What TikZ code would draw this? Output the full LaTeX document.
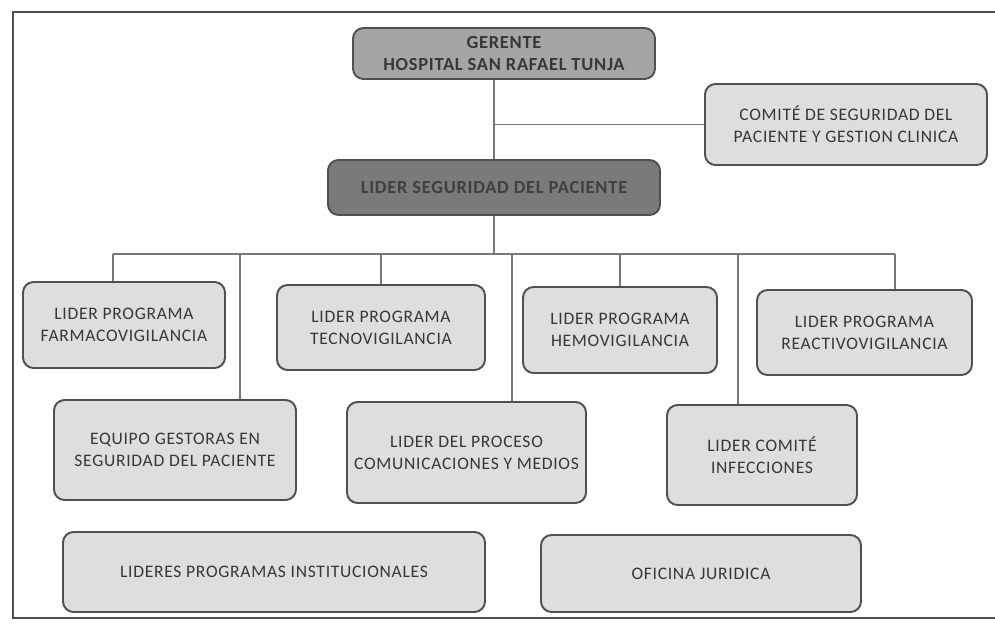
\documentclass[tikz,border=0pt]{standalone}
\usepackage{fontspec}
\setmainfont{Carlito}
\newfontfamily\orgfont[LetterSpace=4]{Carlito}
\usepackage{xcolor}
\definecolor{orgdark}{RGB}{122,122,122}
\definecolor{orgmid}{RGB}{165,165,165}
\definecolor{orglight}{RGB}{222,222,222}
\definecolor{orgedge}{RGB}{80,80,80}
\definecolor{orgline}{RGB}{120,120,120}
\definecolor{orgtext}{RGB}{55,55,55}
\usepackage{tikz}
\usetikzlibrary{positioning}

\begin{document}
\begin{tikzpicture}[
  box/.style={draw=orgedge, fill=orglight, line width=1.1pt, rounded corners=6pt,
    align=center, inner sep=2pt, text=orgtext, font=\orgfont\fontsize{10}{12.5}\selectfont},
  topbox/.style={box, font=\orgfont\fontsize{10.5}{12.5}\selectfont\bfseries},
  link/.style={draw=orgline, line width=0.6pt}
]
  \useasboundingbox (0,0) rectangle (19.9,12.46);
  % outer frame
  \draw[orgedge, line width=1pt] (0.26,0.1) rectangle (20.3,12.22);

  % Top: management
  \node[topbox, fill=orgmid, minimum width=6.04cm, minimum height=1.02cm] (gerente) at (10.08,11.39) {GERENTE\\HOSPITAL SAN RAFAEL TUNJA};
  \node[box, minimum width=5.64cm, minimum height=1.62cm] (comite) at (16.92,9.97) {COMITÉ DE SEGURIDAD DEL\\PACIENTE Y GESTION CLINICA};
  \node[topbox, fill=orgdark, text=black!75, minimum width=6.64cm, minimum height=1.1cm] (seguridad) at (9.88,8.71) {LIDER SEGURIDAD DEL PACIENTE};

  % Row 1: programs
  \node[box, minimum width=4.04cm, minimum height=1.72cm] (farmaco) at (2.48,5.96) {LIDER PROGRAMA\\FARMACOVIGILANCIA};
  \node[box, minimum width=4.16cm, minimum height=1.70cm] (tecno) at (7.62,5.91) {LIDER PROGRAMA\\TECNOVIGILANCIA};
  \node[box, minimum width=3.88cm, minimum height=1.72cm] (hemo) at (12.40,5.86) {LIDER PROGRAMA\\HEMOVIGILANCIA};
  \node[box, minimum width=4.30cm, minimum height=1.70cm] (reactivo) at (17.29,5.81) {LIDER PROGRAMA\\REACTIVOVIGILANCIA};

  % Row 2
  \node[box, minimum width=4.84cm, minimum height=2.00cm] (equipo) at (3.50,3.46) {EQUIPO GESTORAS EN\\SEGURIDAD DEL PACIENTE};
  \node[box, minimum width=4.78cm, minimum height=2.02cm] (proceso) at (9.33,3.41) {LIDER DEL PROCESO\\COMUNICACIONES Y MEDIOS};
  \node[box, minimum width=3.80cm, minimum height=2.00cm] (infecciones) at (15.24,3.36) {LIDER COMITÉ\\INFECCIONES};

  % Row 3
  \node[box, minimum width=8.44cm, minimum height=1.60cm] (institucionales) at (5.48,1.02) {LIDERES PROGRAMAS INSTITUCIONALES};
  \node[box, minimum width=6.40cm, minimum height=1.54cm] (juridica) at (14.02,0.99) {OFICINA JURIDICA};

  % connectors
  \coordinate (busl) at (2.26,7.38);
  \coordinate (busr) at (17.90,7.38);
  \draw[link] (seguridad.north) -- (seguridad.north |- gerente.south);
  \draw[link] (comite.west) -- (comite.west -| seguridad.north);
  \draw[link] (seguridad.south) -- (seguridad.south |- busl);
  \draw[link] (busl) -- (busr);
  \draw[link] (busl) -- (busl |- farmaco.north);
  \draw[link] (tecno.north) -- (tecno.north |- busl);
  \draw[link] (hemo.north) -- (hemo.north |- busl);
  \draw[link] (busr) -- (busr |- reactivo.north);
  \foreach \x/\n in {4.80/equipo, 10.24/proceso, 14.76/infecciones}
    \draw[link] (\x,7.38) -- (\n.north -| \x,7.38);
\end{tikzpicture}
\end{document}
